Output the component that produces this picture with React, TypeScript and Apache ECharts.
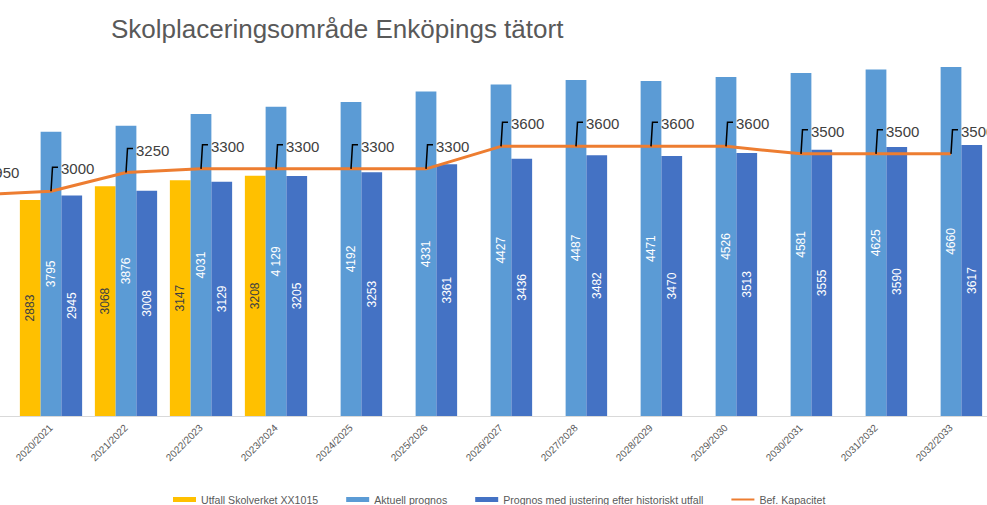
import React, { useEffect, useRef } from "react";
import * as echarts from "echarts";

// First (empty) category is a partially hidden earlier year, cut off at the left edge
const categories = ["", "2020/2021", "2021/2022", "2022/2023", "2023/2024", "2024/2025", "2025/2026", "2026/2027", "2027/2028", "2028/2029", "2029/2030", "2030/2031", "2031/2032", "2032/2033"];
const utfall = [null, 2883, 3068, 3147, 3208, null, null, null, null, null, null, null, null, null];
const aktuell = [null, 3795, 3876, 4031, 4129, 4192, 4331, 4427, 4487, 4471, 4526, 4581, 4625, 4660];
const aktuellLabels = ["", "3795", "3876", "4031", "4 129", "4192", "4331", "4427", "4487", "4471", "4526", "4581", "4625", "4660"];
const justerad = [null, 2945, 3008, 3129, 3205, 3253, 3361, 3436, 3482, 3470, 3513, 3555, 3590, 3617];
const kapacitet = [2950, 3000, 3250, 3300, 3300, 3300, 3300, 3600, 3600, 3600, 3600, 3500, 3500, 3500];
const seriesNames = ["Utfall Skolverket XX1015", "Aktuell prognos", "Prognos med justering efter historiskt utfall", "Bef. Kapacitet"];
const titleText = "Skolplaceringsområde Enköpings tätort";

const FONT = "'Liberation Sans', Arial, sans-serif";

export default function App() {
  const ref = useRef<HTMLDivElement>(null);
  useEffect(() => {
    if (!ref.current) return;
    const chart = echarts.init(ref.current, undefined, { renderer: "svg" });
    const barLabel = (color: string) => ({
      show: true,
      position: "inside",
      rotate: 90,
      fontSize: 12,
      fontFamily: FONT,
      color,
    });
    chart.setOption({
      animation: false,
      backgroundColor: "#ffffff",
      title: {
        text: titleText,
        left: 106,
        top: 11,
        textStyle: { fontFamily: FONT, fontSize: 26, fontWeight: "normal", color: "#595959" },
      },
      legend: {
        data: [
          { name: seriesNames[0], icon: "rect" },
          { name: seriesNames[1], icon: "rect" },
          { name: seriesNames[2], icon: "rect" },
          { name: seriesNames[3], icon: "path://M0 0H46V4H0Z", itemStyle: { color: "#ED7D31" } },
        ],
        left: 168,
        top: 489,
        itemWidth: 23,
        itemHeight: 5,
        itemGap: 28,
        textStyle: { fontFamily: FONT, fontSize: 10.6, color: "#595959" },
      },
      grid: { left: -61.5, width: 1050, top: 41.5, bottom: 89, containLabel: false, outerBoundsMode: "none" },
      xAxis: {
        type: "category",
        data: categories,
        axisLine: { show: true, lineStyle: { color: "#d9d9d9", width: 1 } },
        axisTick: { show: false },
        axisLabel: { rotate: 45, fontSize: 10, fontFamily: FONT, color: "#595959", margin: 10, interval: 0 },
      },
      yAxis: {
        type: "value",
        min: 0,
        max: 5000,
        show: false,
        splitLine: { show: false },
      },
      series: [
        {
          name: seriesNames[0],
          type: "bar",
          data: utfall,
          barGap: "0%",
          barCategoryGap: "17%",
          itemStyle: { color: "#FFC000" },
          label: barLabel("#404040"),
        },
        {
          name: seriesNames[1],
          type: "bar",
          data: aktuell.map((v, i) => ({ value: v, label: { formatter: aktuellLabels[i] } })),
          barGap: "0%",
          barCategoryGap: "17%",
          itemStyle: { color: "#5B9BD5" },
          label: barLabel("#ffffff"),
        },
        {
          name: seriesNames[2],
          type: "bar",
          data: justerad,
          barGap: "0%",
          barCategoryGap: "17%",
          itemStyle: { color: "#4472C4" },
          label: barLabel("#ffffff"),
        },
        {
          name: seriesNames[3],
          type: "line",
          data: kapacitet,
          symbol: "none",
          lineStyle: { color: "#ED7D31", width: 3 },
          itemStyle: { color: "#ED7D31" },
          z: 5,
        },
        {
          name: "labels",
          type: "custom",
          z: 6,
          data: kapacitet.map((v, i) => [i, v]),
          renderItem: (params: any, api: any) => {
            const p = api.coord([api.value(0), api.value(1)]);
            const x = p[0];
            const y = p[1];
            return {
              type: "group",
              children: [
                {
                  type: "polyline",
                  shape: { points: [[x, y], [x + 1.5, y - 24], [x + 7, y - 24]] },
                  style: { stroke: "#000000", lineWidth: 1.5, fill: null },
                },
                {
                  type: "text",
                  x: x + 10,
                  y: y - 22.5,
                  style: {
                    text: String(api.value(1)),
                    fontSize: 15,
                    fontFamily: FONT,
                    fill: "#404040",
                    verticalAlign: "middle",
                    align: "left",
                  },
                },
              ],
            };
          },
        },
      ],
    });
    return () => chart.dispose();
  }, []);
  return <div ref={ref} style={{ position: "fixed", left: 0, top: 0, width: 987, height: 505 }} />;
}
